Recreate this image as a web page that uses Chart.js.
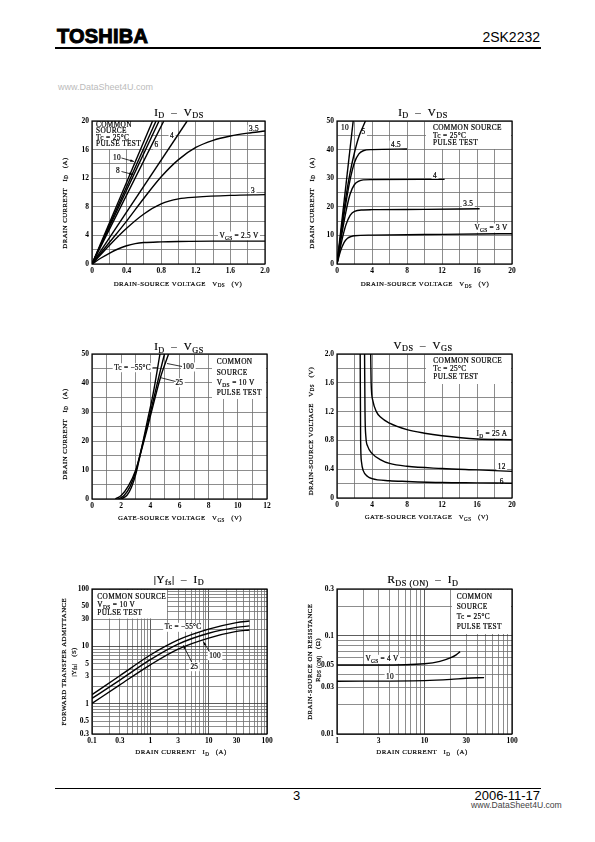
<!DOCTYPE html>
<html lang="en">
<head>
<meta charset="UTF-8">
<title>2SK2232</title>
<script src="https://cdn.jsdelivr.net/npm/chart.js"></script>
<style>
  body { margin:0; width:595px; height:842px; background:#fff; position:relative; overflow:hidden; font-family:"Liberation Sans", Arial, sans-serif; }
  .abs { position:absolute; white-space:nowrap; }
  .logo { left:57px; top:25px; font-weight:bold; font-size:20px; letter-spacing:0.2px; -webkit-text-stroke:1px #000; }
  .part { right:55px; top:29px; font-size:14px; }
  .rule { left:55px; width:486px; background:#000; }
  .wm { font-size:9px; color:#bbb; }
  canvas { position:absolute; }
</style>
</head>
<body>
<div class="abs logo">TOSHIBA</div>
<div class="abs part">2SK2232</div>
<div class="abs rule" style="top:47px;height:1.5px"></div>
<div class="abs wm" style="left:58px;top:82px">www.DataSheet4U.com</div>

<div class="abs rule" style="top:788px;height:1px"></div>
<div class="abs" style="left:293px;top:788px;font-size:13px">3</div>
<div class="abs" style="right:55px;top:788px;font-size:13px">2006-11-17</div>
<div class="abs" style="left:471px;top:800px;font-size:8.6px;color:#444">www.DataSheet4U.com</div>

<script>
const SERIF = '"Liberation Serif", "DejaVu Serif", serif';

// ---- ID - VDS (0..2 V)
const c1Vgs10 = [[0,0],[0.70,20]];
const c1Vgs8  = [[0,0],[0.74,20]];
const c1Vgs7  = [[0,0],[0.775,20]];
const c1Vgs6  = [[0,0],[0.83,20]];
const c1Vgs4  = [[0,0],[1.1,20]];
const c1Vgs35 = [[0,0],[0.2,3],[0.4,6],[0.6,9.2],[0.8,12.2],[1.0,14.6],[1.2,16.3],[1.4,17.3],[1.6,17.9],[1.8,18.3],[2.0,18.6]];
const c1Vgs3  = [[0,0],[0.2,2.6],[0.4,5.0],[0.6,7.0],[0.8,8.4],[1.0,9.1],[1.2,9.35],[1.6,9.6],[2.0,9.7]];
const c1Vgs25 = [[0,0],[0.1,0.8],[0.2,1.5],[0.3,2.1],[0.4,2.55],[0.5,2.85],[0.6,3.0],[0.8,3.1],[1.0,3.15],[1.4,3.2],[2.0,3.2]];
const c1XTicks = [0,0.4,0.8,1.2,1.6,2.0];
const c1XLabels = ['0','0.4','0.8','1.2','1.6','2.0'];
const c1YTicks = [0,4,8,12,16,20];

// ---- ID - VDS (0..20 V)
const c2Vgs10 = [[0,0],[1.85,50]];
const c2Vgs5  = [[0,0],[0.5,12],[1,23],[1.5,32],[2,39],[2.5,44.5],[3.25,50]];
const c2Vgs45 = [[0,0],[0.5,11],[1,21],[1.5,29.5],[2,35.5],[2.5,38.5],[3,39.6],[4,40],[8,40.2]];
const c2Vgs4  = [[0,0],[0.5,9.5],[1,18],[1.5,24.5],[2,27.8],[2.5,29],[3,29.4],[4,29.5],[12.3,29.6]];
const c2Vgs35 = [[0,0],[0.5,7.5],[1,13.5],[1.5,17],[2,18.4],[3,18.9],[4,19],[10,19.1],[16.3,19.3]];
const c2Vgs3  = [[0,0],[0.4,4.5],[0.8,7.5],[1.2,9],[1.6,9.6],[2,9.9],[4,10.1],[10,10.3],[16,10.5],[20,10.6]];
const c2XTicks = [0,4,8,12,16,20];
const c2YTicks = [0,10,20,30,40,50];

// ---- ID - VGS
const c3Tc100 = [[1.6,0],[2.0,1.2],[2.5,4.5],[3,10],[3.4,17],[3.8,24.5],[4.2,32.5],[4.7,42],[5.25,50]];
const c3Tc25  = [[1.8,0],[2.2,1.2],[2.6,4.2],[3,9.5],[3.4,17.5],[3.8,25.5],[4.2,34],[4.6,42.5],[4.97,50]];
const c3Tcm55 = [[2.0,0],[2.4,1.3],[2.7,4],[3,8.5],[3.4,17.5],[3.8,27],[4.2,36.5],[4.66,50]];
const c3XTicks = [0,2,4,6,8,10,12];
const c3YTicks = [0,10,20,30,40,50];

// ---- VDS - VGS
const c4Id25 = [[3.85,2.0],[3.9,1.6],[4.1,1.35],[4.5,1.2],[5,1.12],[6,1.04],[8,0.95],[10,0.9],[12,0.865],[16,0.82],[20,0.81]];
const c4Id12 = [[3.15,2.0],[3.2,1.2],[3.3,0.85],[3.5,0.72],[4,0.62],[5,0.53],[6,0.48],[8,0.44],[12,0.41],[16,0.39],[20,0.37]];
const c4Id6  = [[2.65,2.0],[2.7,0.8],[2.8,0.5],[3,0.38],[3.5,0.3],[4,0.27],[6,0.24],[8,0.23],[12,0.215],[16,0.21],[20,0.205]];
const c4XTicks = [0,4,8,12,16,20];
const c4YTicks = [0,0.4,0.8,1.2,1.6,2.0];
const c4YLabels = ['0','0.4','0.8','1.2','1.6','2.0'];

// ---- |Yfs| - ID
const c5Tcm55 = [[0.1,1.45],[0.3,3.1],[1,7.1],[3,13],[10,20],[30,26],[50,27.8]];
const c5Tc25  = [[0.1,1.25],[0.3,2.6],[1,5.9],[3,11],[10,17],[30,21.5],[50,22.8]];
const c5Tc100 = [[0.1,1.02],[0.3,2.15],[1,4.8],[3,9],[10,14],[30,18.3],[50,19.4]];
const c5XTicks = [0.1,0.3,1,3,10,30,100];
const c5YTicks = [0.3,0.5,1,3,5,10,30,50,100];

// ---- RDS(ON) - ID
const c6Vgs4  = [[1,0.0505],[3,0.0505],[10,0.052],[15,0.055],[20,0.06],[23,0.064],[25.5,0.069]];
const c6Vgs10 = [[1,0.0345],[10,0.035],[20,0.036],[30,0.037],[48,0.0375]];
const c6XTicks = [1,3,10,30,100];
const c6YTicks = [0.01,0.03,0.05,0.1,0.3];

function logGrid(min, max) {
  const out = [];
  for (let e = -3; e <= 3; e++) for (let m = 1; m < 10; m++) {
    const v = +(m * Math.pow(10, e)).toPrecision(3);
    if (v >= min * 0.999 && v <= max * 1.001) out.push(v);
  }
  return out;
}

function parts(str) {
  const out = [], re = /_\{([^}]*)\}/g; let last = 0, m;
  while ((m = re.exec(str))) {
    if (m.index > last) out.push([str.slice(last, m.index), false]);
    out.push([m[1], true]); last = re.lastIndex;
  }
  if (last < str.length) out.push([str.slice(last), false]);
  return out;
}
function richWidth(ctx, str, size, sp) {
  let w = 0;
  parts(str).forEach(([t, sub]) => {
    ctx.font = (sub ? size * 0.75 : size) + 'px ' + SERIF;
    ctx.letterSpacing = sp + 'px';
    w += ctx.measureText(t).width;
  });
  return w;
}
// text with _{subscript} parts, lightly stroked to match the scanned weight
function drawRich(ctx, str, x, y, size, align, sp) {
  sp = sp || 0;
  const w = richWidth(ctx, str, size, sp);
  let cx = align === 'center' ? x - w / 2 : align === 'right' ? x - w : x;
  ctx.textAlign = 'left'; ctx.textBaseline = 'middle';
  ctx.fillStyle = '#000'; ctx.strokeStyle = '#000'; ctx.lineWidth = 0.2;
  parts(str).forEach(([t, sub]) => {
    ctx.font = (sub ? size * 0.75 : size) + 'px ' + SERIF;
    ctx.letterSpacing = sp + 'px';
    const ty = sub ? y + size * 0.3 : y;
    ctx.fillText(t, cx, ty); ctx.strokeText(t, cx, ty);
    cx += ctx.measureText(t).width;
  });
  return w;
}

function tickFont() { return { family: SERIF, size: 7.5, weight: 'bold' }; }

function linScale(min, max, step, ticks, labels, horiz) {
  return {
    type: 'linear', min, max,
    ticks: {
      stepSize: step, autoSkip: false, maxRotation: 0, color: '#000', font: tickFont(), padding: 3,
      callback: v => {
        const i = ticks.findIndex(t => Math.abs(t - v) < 1e-6);
        return i < 0 ? '' : (labels ? labels[i] : String(ticks[i]));
      }
    },
    grid: { color: '#707070', lineWidth: 0.8, drawTicks: false },
    border: { display: false },
    afterFit: s => { if (horiz) s.height = 15; else s.width = 25; }
  };
}
function logScale(min, max, ticks, horiz) {
  const grid = logGrid(min, max);
  return {
    type: 'logarithmic', min, max,
    afterBuildTicks: s => { s.ticks = grid.map(v => ({ value: v })); },
    ticks: {
      autoSkip: false, maxRotation: 0, color: '#000', font: tickFont(), padding: 3,
      callback: v => {
        const i = ticks.findIndex(t => Math.abs(t - v) < t * 1e-6);
        return i < 0 ? '' : String(ticks[i]);
      }
    },
    grid: {
      drawTicks: false, lineWidth: 0.8,
      color: c => { const v = c.tick ? c.tick.value : 1; return Math.abs(Math.log10(v) - Math.round(Math.log10(v))) < 1e-6 ? '#333' : '#707070'; }
    },
    border: { display: false },
    afterFit: s => { if (horiz) s.height = 15; else s.width = 25; }
  };
}

function series(arr) {
  return {
    data: arr.map(([x, y]) => ({ x, y })), showLine: true, borderColor: '#000', borderWidth: 1.4,
    pointRadius: 0, cubicInterpolationMode: 'monotone', fill: false
  };
}

function deco(def, ox, oy) {
  return {
    id: 'deco',
    beforeDatasetsDraw(chart) {
      const ctx = chart.ctx; ctx.save(); ctx.translate(-ox, -oy);
      ctx.fillStyle = '#fff';
      (def.boxes || []).forEach(([x1, y1, x2, y2]) => ctx.fillRect(x1, y1, x2 - x1, y2 - y1));
      (def.labels || []).forEach(([t, x, y, al]) => {
        const w = richWidth(ctx, t, 7.3, 0.25);
        const lx = al === 'center' ? x - w / 2 : al === 'right' ? x - w : x;
        ctx.fillStyle = '#fff'; ctx.fillRect(lx - 1.5, y - 4.5, w + 3, 9);
      });
      ctx.restore();
    },
    afterDatasetsDraw(chart) {
      const ctx = chart.ctx, a = chart.chartArea;
      ctx.save();
      ctx.strokeStyle = '#000'; ctx.lineWidth = 1.2;
      ctx.strokeRect(a.left, a.top, a.right - a.left, a.bottom - a.top);
      ctx.translate(-ox, -oy);
      const bt = def.boxText;
      if (bt) bt.lines.forEach((t, i) => drawRich(ctx, t, bt.x, bt.ys[i], 7.3, 'left', 0.35));
      (def.labels || []).forEach(([t, x, y, al]) => drawRich(ctx, t, x, y, 7.3, al, 0.25));
      (def.leaders || []).forEach(([x1, y1, x2, y2, arrow]) => {
        ctx.strokeStyle = '#000'; ctx.lineWidth = 0.8;
        ctx.beginPath(); ctx.moveTo(x1, y1); ctx.lineTo(x2, y2); ctx.stroke();
        if (arrow) {
          const ang = Math.atan2(y2 - y1, x2 - x1);
          ctx.beginPath(); ctx.moveTo(x2, y2);
          ctx.lineTo(x2 - 4 * Math.cos(ang - 0.35), y2 - 4 * Math.sin(ang - 0.35));
          ctx.lineTo(x2 - 4 * Math.cos(ang + 0.35), y2 - 4 * Math.sin(ang + 0.35));
          ctx.closePath(); ctx.fillStyle = '#000'; ctx.fill();
        }
      });
      // titles
      drawRich(ctx, def.title[0], def.title[1], def.title[2], 11, 'center', 0.5);
      drawRich(ctx, def.xTitle[0], def.xTitle[1], def.xTitle[2], 6.8, 'center', 0.45);
      def.yTitle.forEach(([t, x, y]) => {
        ctx.save(); ctx.translate(x, y); ctx.rotate(-Math.PI / 2);
        drawRich(ctx, t, 0, 0, 6.8, 'center', 0.45);
        ctx.restore();
      });
      ctx.restore();
    }
  };
}

function makeChart(def) {
  const [L, T, R, B] = def.rect;
  // padding 35 + y axis 25 + 20 ; padding 30 + x axis 15 + 50
  const ox = L - 60, oy = T - 30, w = (R - L) + 80, h = (B - T) + 95;
  const cv = document.createElement('canvas');
  cv.width = w; cv.height = h;
  cv.style.left = ox + 'px'; cv.style.top = oy + 'px';
  cv.style.width = w + 'px'; cv.style.height = h + 'px';
  document.body.appendChild(cv);
  new Chart(cv.getContext('2d'), {
    type: 'scatter',
    data: { datasets: def.series.map(series) },
    options: {
      responsive: false, animation: false, devicePixelRatio: 1,
      layout: { padding: { left: 35, top: 30, right: 20, bottom: 50 } },
      plugins: { legend: { display: false }, tooltip: { enabled: false } },
      scales: { x: def.x, y: def.y }
    },
    plugins: [deco(def, ox, oy)]
  });
}

makeChart({
  rect: [92, 121, 265, 264],
  x: linScale(0, 2, 0.2, c1XTicks, c1XLabels, true),
  y: linScale(0, 20, 2, c1YTicks, null, false),
  series: [c1Vgs10, c1Vgs8, c1Vgs7, c1Vgs6, c1Vgs4, c1Vgs35, c1Vgs3, c1Vgs25],
  boxes: [[93, 122, 151, 149]],
  boxText: { x: 96, ys: [125, 131.5, 138, 144.5], lines: ['COMMON', 'SOURCE', 'Tc = 25°C', 'PULSE TEST'] },
  labels: [['10', 117, 158, 'center'], ['8', 118, 171.5, 'center'], ['6', 156.5, 145, 'center'], ['4', 172, 136.5, 'center'],
           ['3.5', 254, 129.5, 'center'], ['3', 253, 191.5, 'center'], ['V_{GS} = 2.5 V', 239, 236, 'center']],
  leaders: [[121.5, 158, 134, 161.5, true], [121.5, 171.5, 133, 174.5, true]],
  title: ['I_{D}  –  V_{DS}', 179, 113],
  xTitle: ['DRAIN-SOURCE VOLTAGE   V_{DS}   (V)', 178, 284],
  yTitle: [['DRAIN CURRENT   I_{D}   (A)', 65, 203]]
});

makeChart({
  rect: [337, 121, 512, 264],
  x: linScale(0, 20, 2, c2XTicks, null, true),
  y: linScale(0, 50, 5, c2YTicks, null, false),
  series: [c2Vgs10, c2Vgs5, c2Vgs45, c2Vgs4, c2Vgs35, c2Vgs3],
  boxes: [[426, 122, 511, 149], [339, 122, 350, 131]],
  boxText: { x: 433, ys: [128.3, 136, 143.3], lines: ['COMMON SOURCE', 'Tc = 25°C', 'PULSE TEST'] },
  labels: [['10', 345, 128.3, 'center'], ['5', 363.5, 132.3, 'center'], ['4.5', 396, 145, 'center'], ['4', 435, 176, 'center'],
           ['3.5', 468.3, 204.3, 'center'], ['V_{GS} = 3 V', 491, 228, 'center']],
  leaders: [],
  title: ['I_{D}  –  V_{DS}', 423, 113],
  xTitle: ['DRAIN-SOURCE VOLTAGE   V_{DS}   (V)', 425, 284.5],
  yTitle: [['DRAIN CURRENT   I_{D}   (A)', 312, 203]]
});

makeChart({
  rect: [92, 354, 267, 499],
  x: linScale(0, 12, 1, c3XTicks, null, true),
  y: linScale(0, 50, 5, c3YTicks, null, false),
  series: [c3Tc100, c3Tc25, c3Tcm55],
  boxes: [[212, 355, 266, 399]],
  boxText: { x: 216.7, ys: [362.3, 372.7, 383.3, 392.7], lines: ['COMMON', 'SOURCE', 'V_{DS} = 10 V', 'PULSE TEST'] },
  labels: [['Tc = −55°C', 132.5, 367.7, 'center'], ['100', 188.3, 367, 'center'], ['25', 179.3, 382.7, 'center']],
  leaders: [[152.5, 367.7, 157.5, 367.7, false], [167, 363.5, 182, 366.5, false], [160, 377.5, 175.5, 381.5, false]],
  title: ['I_{D}  –  V_{GS}', 179, 347.5],
  xTitle: ['GATE-SOURCE VOLTAGE   V_{GS}   (V)', 180, 518.5],
  yTitle: [['DRAIN CURRENT   I_{D}   (A)', 65, 434]]
});

makeChart({
  rect: [337, 354, 512, 498],
  x: linScale(0, 20, 2, c4XTicks, null, true),
  y: linScale(0, 2, 0.2, c4YTicks, c4YLabels, false),
  series: [c4Id25, c4Id12, c4Id6],
  boxes: [[426, 355, 511, 384]],
  boxText: { x: 433.3, ys: [361, 369.3, 377.3], lines: ['COMMON SOURCE', 'Tc = 25°C', 'PULSE TEST'] },
  labels: [['I_{D} = 25 A', 492, 434, 'center'], ['12', 501.7, 466.7, 'center'], ['6', 501.7, 481.7, 'center']],
  leaders: [],
  title: ['V_{DS}  –  V_{GS}', 423, 346],
  xTitle: ['GATE-SOURCE VOLTAGE   V_{GS}   (V)', 426.7, 517.7],
  yTitle: [['DRAIN-SOURCE VOLTAGE   V_{DS}   (V)', 311, 431]]
});

makeChart({
  rect: [92, 589, 267, 734],
  x: logScale(0.1, 100, c5XTicks, true),
  y: logScale(0.3, 100, c5YTicks, false),
  series: [c5Tcm55, c5Tc25, c5Tc100],
  boxes: [[93, 590, 167, 618.5]],
  boxText: { x: 97.3, ys: [596.7, 605, 612.7], lines: ['COMMON SOURCE', 'V_{DS} = 10 V', 'PULSE TEST'] },
  labels: [['Tc = −55°C', 183, 627.3, 'center'], ['100', 215, 655.7, 'center'], ['25', 194.3, 666.7, 'center']],
  leaders: [[209.5, 651.5, 203.3, 641.7, true], [191.7, 662, 183.3, 645.3, true]],
  title: ['|Y_{fs}|  –  I_{D}', 179, 580],
  xTitle: ['DRAIN CURRENT   I_{D}   (A)', 181, 752.7],
  yTitle: [['FORWARD TRANSFER ADMITTANCE', 64, 661.7], ['|Y_{fs}|   (S)', 74, 662]]
});

makeChart({
  rect: [337, 589, 512, 734],
  x: logScale(1, 100, c6XTicks, true),
  y: logScale(0.01, 0.3, c6YTicks, false),
  series: [c6Vgs4, c6Vgs10],
  boxes: [[452, 590, 511, 634]],
  boxText: { x: 456.7, ys: [596.7, 607.3, 616.7, 626.7], lines: ['COMMON', 'SOURCE', 'Tc = 25°C', 'PULSE TEST'] },
  labels: [['V_{GS} = 4 V', 382, 659.3, 'center'], ['10', 390, 677.3, 'center']],
  leaders: [],
  title: ['R_{DS (ON)}  –  I_{D}', 423, 580.5],
  xTitle: ['DRAIN CURRENT   I_{D}   (A)', 422, 752.7],
  yTitle: [['DRAIN-SOURCE ON RESISTANCE', 310, 661.7], ['R_{DS (ON)}   (Ω)', 318, 660]]
});
</script>
</body>
</html>
